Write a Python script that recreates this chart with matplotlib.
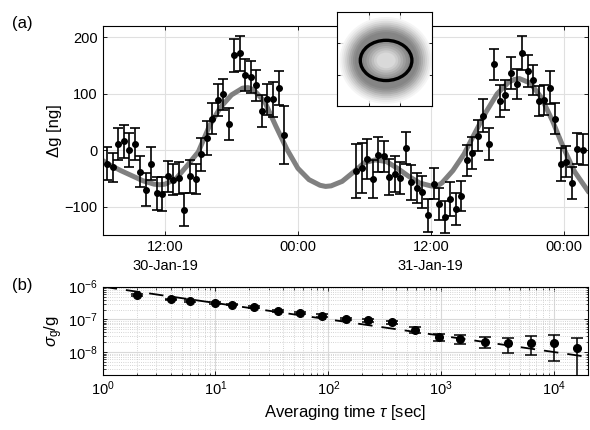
import numpy as np
import matplotlib.pyplot as plt
from matplotlib.patches import Ellipse
from matplotlib.ticker import LogLocator, FixedLocator, NullFormatter

plt.rcParams['font.family'] = ['Liberation Sans', 'DejaVu Sans']
plt.rcParams['mathtext.fontset'] = 'custom'
plt.rcParams['mathtext.rm'] = 'Liberation Sans'
plt.rcParams['mathtext.it'] = 'Liberation Sans:italic'

# (a) gravity residuals, hours after 30-Jan-19 00:00, every 30 min
hours_1 = np.arange(6.75, 22.76, 0.5)
dg_1 = [-24, -30, 11, 16, 1, 11, -38, -70, -24, -76, -77, -46, -52, -49, -105,
        -46, -51, -7, 22, 56, 89, 99, 46, 168, 172, 133, 130, 115, 69, 90, 90,
        110, 27]
err_1 = [29, 26, 29, 29, 30, 28, 27, 29, 29, 29, 30, 27, 27, 28, 29, 29, 27,
         29, 30, 27, 28, 27, 28, 29, 31, 28, 28, 27, 28, 28, 31, 30, 51]
hours_2 = np.arange(29.25, 49.76, 0.5)
dg_2 = [-37, -32, -15, -51, -8, -11, -48, -42, -49, 4, -57, -67, -74, -115,
        -59, -95, -118, -86, -104, -81, -18, -5, 26, 61, 11, 152, 87, 98, 137,
        117, 173, 140, 124, 87, 89, 111, 56, -25, -20, -58, 3, 1]
err_2 = [48, 44, 35, 33, 31, 27, 32, 32, 28, 28, 31, 27, 28, 29, 27, 29, 28,
         30, 29, 27, 27, 28, 28, 29, 29, 27, 28, 27, 28, 27, 30, 28, 27, 27,
         26, 29, 27, 29, 27, 29, 27, 27]

# tide model curve
model_hours = [6.36, 7, 8, 9, 10, 11, 11.5, 12, 13, 14, 15, 16, 17, 18, 19,
               19.5, 20, 21, 22, 23, 24, 25, 26, 26.5, 27, 28, 29, 30, 31, 32,
               33, 34, 35, 36, 36.5, 37, 38, 39, 40, 41, 42, 43, 43.5, 44, 45,
               46, 47, 48, 49, 50.2]
model_dg = [-18, -26, -36, -45, -54, -60, -61, -60, -50, -27, -3, 43, 76, 98,
            110, 111, 107, 86, 43, 2, -32, -52, -62, -64, -63, -55, -39, -22,
            -17, -20, -32, -46, -58, -63, -64, -58, -36, -7, 31, 68, 100, 120,
            125, 127, 119, 93, 52, 4, -38, -72]

# (b) Allan deviation
tau = [2, 4, 6, 10, 14, 22, 36, 56, 88, 144, 225, 367, 582, 955, 1480, 2450,
       3880, 6240, 10000, 15900]
sigma = [5.5e-7, 4.1e-7, 3.6e-7, 3.2e-7, 2.85e-7, 2.35e-7, 1.86e-7, 1.58e-7,
         1.31e-7, 1.03e-7, 9.3e-8, 8.1e-8, 4.9e-8, 2.9e-8, 2.5e-8, 2.07e-8,
         1.85e-8, 1.9e-8, 1.9e-8, 1.37e-8]
sigma_err = [3e-8, 2.5e-8, 2.2e-8, 2e-8, 1.8e-8, 1.5e-8, 1.3e-8, 1.2e-8,
             1.1e-8, 1e-8, 9e-9, 9e-9, 1e-8, 7e-9, 7.5e-9, 7.5e-9, 8.8e-9,
             1.1e-8, 1.35e-8, 1.33e-8]
fit_tau = [1, 2e4]
fit_sigma = [1e-6, 7.1e-9]

# inset: point cloud shown as shaded density rings (outer to inner)
cloud_rx = [1.46, 1.40, 1.34, 1.28, 1.22, 1.16, 1.10, 1.04, 0.98,
            0.70, 0.62, 0.54, 0.46, 0.38, 0.30]
cloud_ry = [1.38, 1.32, 1.26, 1.20, 1.14, 1.08, 1.02, 0.96, 0.90,
            0.60, 0.53, 0.46, 0.39, 0.32, 0.25]
cloud_gray = ['0.96', '0.92', '0.87', '0.81', '0.75', '0.68', '0.62', '0.56',
              '0.52', '0.56', '0.62', '0.68', '0.74', '0.80', '0.85']
ring_rx, ring_ry = 0.81, 0.64

fig = plt.figure(figsize=(5.9, 4.3), dpi=100)
ax1 = fig.add_axes([0.174, 0.4535, 0.8225, 0.486])
ax2 = fig.add_axes([0.174, 0.128, 0.8225, 0.2053])
axin = fig.add_axes([0.5707, 0.7535, 0.162, 0.2193])

for ax in (ax1, ax2, axin):
    ax.tick_params(direction='in', top=True, right=True, labelsize=10.5,
                   length=3, width=0.6)
    for s in ax.spines.values():
        s.set_linewidth(0.8)

# ---- (a)
ax1.plot(model_hours, model_dg, color='0.5', lw=3.6, zorder=2)
eb = dict(fmt='o', color='black', ms=4, elinewidth=1.2, capsize=3.5,
          capthick=1.2, zorder=3)
ax1.errorbar(hours_1, dg_1, yerr=err_1, **eb)
ax1.errorbar(hours_2, dg_2, yerr=err_2, **eb)
ax1.set_xlim(6.36, 50.2)
ax1.set_ylim(-150, 220)
ax1.set_yticks([-100, 0, 100, 200])
ax1.set_xticks([12, 24, 36, 48])
ax1.set_xticklabels(['12:00\n30-Jan-19', '00:00', '12:00\n31-Jan-19', '00:00'],
                    linespacing=1.5)
ax1.grid(True, color='0.88', lw=0.8)
ax1.set_axisbelow(True)
ax1.set_ylabel('Δg [ng]', fontsize=12, labelpad=2)

# ---- inset
axin.set_xlim(-1.5, 1.5)
axin.set_ylim(-1.5, 1.5)
axin.set_xticks([-0.5, 0.5])
axin.set_yticks([-0.5, 0.5])
axin.set_xticklabels([])
axin.set_yticklabels([])
axin.tick_params(length=2)
axin.grid(True, color='0.85', lw=0.8)
axin.set_axisbelow(True)
for rx, ry, g in zip(cloud_rx, cloud_ry, cloud_gray):
    axin.add_patch(Ellipse((0.05, -0.05), 2 * rx, 2 * ry, facecolor=g,
                           edgecolor='none', zorder=2))
axin.add_patch(Ellipse((0.05, -0.05), 2 * ring_rx, 2 * ring_ry,
                       facecolor='none', edgecolor='black', lw=2.4, zorder=3))

# ---- (b)
ax2.errorbar(tau, sigma, yerr=sigma_err, fmt='o', color='black', ms=5.5,
             elinewidth=1.1, capsize=4, capthick=1.1, zorder=3)
ax2.plot(fit_tau, fit_sigma, color='black', lw=1.3, ls=(0, (8, 5)), zorder=2)
ax2.set_xscale('log')
ax2.set_yscale('log')
ax2.set_xlim(1, 2e4)
ax2.set_ylim(2e-9, 1e-6)
ax2.xaxis.set_major_locator(FixedLocator([1, 10, 100, 1000, 10000]))
ax2.xaxis.set_minor_locator(LogLocator(base=10, subs=np.arange(2, 10), numticks=20))
ax2.xaxis.set_minor_formatter(NullFormatter())
ax2.yaxis.set_major_locator(FixedLocator([1e-8, 1e-7, 1e-6]))
ax2.yaxis.set_minor_locator(LogLocator(base=10, subs=np.arange(2, 10), numticks=20))
ax2.yaxis.set_minor_formatter(NullFormatter())
ax2.tick_params(which='minor', direction='in', top=True, right=True, length=1.8,
                width=0.5)
ax2.grid(True, which='major', color='0.85', lw=0.8)
ax2.grid(True, which='minor', color='0.78', lw=0.6, ls=':')
ax2.set_axisbelow(True)
ax2.set_xlabel(r'Averaging time $\tau$ [sec]', fontsize=12, labelpad=3)
ax2.set_ylabel(r'$\sigma_{\rm g}$/g', fontsize=12, labelpad=2)

fig.text(0.02, 0.935, '(a)', fontsize=12)
fig.text(0.02, 0.325, '(b)', fontsize=12)

fig.savefig('out.png', dpi=100)
